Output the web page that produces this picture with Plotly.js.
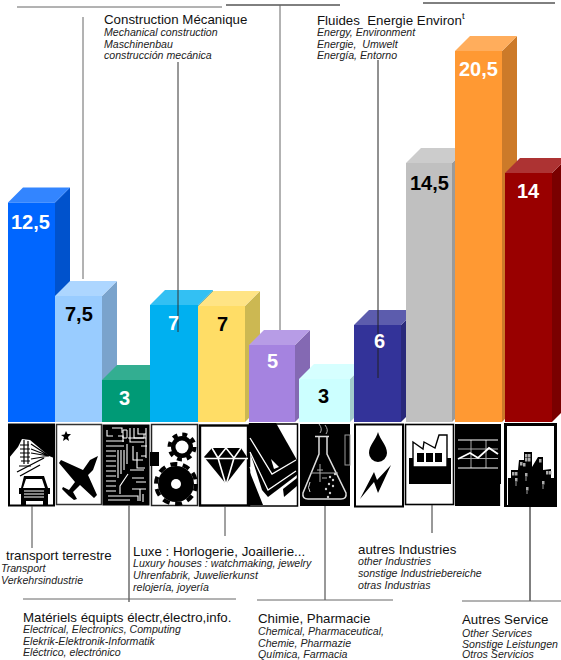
<!DOCTYPE html>
<html><head><meta charset="utf-8">
<script src="https://cdn.plot.ly/plotly-3.0.1.min.js"></script>
<style>html,body{margin:0;padding:0;background:#fff}#c{width:561px;height:660px}</style>
</head><body><div id="c"></div>
<script>
// ---------- data ----------
const categories = ["transport terrestre","Construction mécanique 1","Matériels électr.","Construction Mécanique","Luxe","Fluides 1","Chimie, Pharmacie","Fluides Energie","autres Industries","Divers","Autres Service"];
const shareLabels = ["12,5","7,5","3","7","7","5","3","6","14,5","20,5","14"];
// drawn bar heights (the bars are not strictly to scale with their labels)
const drawnHeights = [12.2,7.0,2.33,6.5,6.44,4.28,2.39,5.39,14.39,20.61,13.83];
const labelColors = ["#fff","#000","#fff","#fff","#000","#fff","#000","#fff","#000","#fff","#fff"];

// ---------- layout helpers (style only) ----------
const barLeft  = [8,55,102,150,198,249,299,354,406,455,505];
const barRight = [55,102,150,198,245,295,350,401,452,502,552];
const labelDx  = [-1,0,-2,-0.5,0.5,0,-1.5,1.5,0,0,0];
const labelDy  = [-19.5,-18,-18,-18,-17.5,-16.5,-17,-16,-20,-18,-17.5];
const frontCol = ["#0066FF","#99CCFF","#009A76","#00B0F0","#FFDD66","#A583E0","#CCFFFF","#333399","#C0C0C0","#FF9933","#990000"];
const topCol   = ["#3385FF","#ADD6FF","#33AE91","#33C0F3","#FFE485","#B79CE6","#D6FFFF","#5C5CAD","#CCCCCC","#FFAD5C","#AD3333"];
const sideCol  = ["#0052CC","#7AA3CC","#007B5E","#008DC0","#CCB852","#8469B3","#A3CCCC","#29297A","#9A9A9A","#CC7A29","#7A0000"];
const W=561,H=660,BASE=422,U=18,D=15;
const du=D/U;
const centers=barLeft.map((l,i)=>(l+barRight[i])/2);
const widths=barLeft.map((l,i)=>barRight[i]-l);
const py=p=>1-p/H;

// 3D faces: drawn below the trace, in the chart's own axis coordinates
const shapes=[];
drawnHeights.forEach((h,i)=>{
  const l=barLeft[i],r=barRight[i];
  shapes.push({type:'path',layer:'below',xref:'x',yref:'y',line:{width:0},fillcolor:sideCol[i],
    path:`M${r},0 L${r+D},${du} L${r+D},${h+du} L${r},${h} Z`});
  shapes.push({type:'path',layer:'below',xref:'x',yref:'y',line:{width:0},fillcolor:topCol[i],
    path:`M${l},${h} L${l+D},${h+du} L${r+D},${h+du} L${r},${h} Z`});
});
const ln=(x0,y0,x1,y1,c,w)=>shapes.push({type:'line',layer:'above',xref:'paper',yref:'paper',x0:x0/W,x1:x1/W,y0:py(y0),y1:py(y1),line:{color:c,width:w||1}});
// leader lines
ln(17,7,222,7,'#666'); ln(226,5,340,5,'#000'); ln(423,3,555,3,'#000');
ln(83,17,83,279,'#666'); ln(178,62,178,332,'#333'); ln(280,5,280,330,'#666'); ln(378,60,378,378,'#222');
ln(32,506,32,548,'#444'); ln(129,505,129,602,'#555',1.3); ln(225,506,225,536,'#444');
ln(325,506,325,600,'#333'); ln(432,505,432,533,'#333'); ln(530,506,530,601,'#000');
ln(23,599,236,599,'#666'); ln(257,600,393,600,'#666'); ln(462,601,561,601,'#666');

const anns=[];
shareLabels.forEach((t,i)=>anns.push({xref:'x',yref:'y',x:centers[i],y:drawnHeights[i],yshift:labelDy[i],xshift:labelDx[i],text:t,showarrow:false,
  xanchor:'center',yanchor:'middle',font:{family:'"Liberation Sans"',size:20,color:labelColors[i],weight:700}}));
const txt=(x,y,t,it,xs)=>anns.push({xref:'paper',yref:'paper',x:x/W,y:py(y),xshift:xs,text:t,showarrow:false,xanchor:'left',yanchor:'middle',borderpad:0,
  font:{family:'"Liberation Sans"',size:it?10.6:13.3,color:it?'#222':'#111',style:it?'italic':'normal'}});
const block=(x,ys,head,lines,xs)=>{txt(x,ys[0],head,false,-1.5);lines.forEach((l,i)=>txt(xs!==undefined?xs:x,ys[i+1],l,true,-1.5));};
block(104.5,[19,32,44,55],"Construction Mécanique",["Mechanical construction","Maschinenbau","construcción mecánica"]);
block(317.5,[19,32,44,55],"Fluides&nbsp;&nbsp;Energie Environ<sup>t</sup>",["Energy, Environment","Energie,&nbsp;&nbsp;Umwelt","Energía, Entorno"]);
block(6,[555,568,580],"transport terrestre",["Transport","Verkehrsindustrie"],1.5);
block(133,[551,563,575,587],"Luxe : Horlogerie, Joaillerie...",["Luxury houses : watchmaking, jewelry","Uhrenfabrik, Juwelierkunst","relojería, joyería"]);
block(23,[617,629,641,652],"Matériels équipts électr,électro,info.",["Electrical, Electronics, Computing","Elekrik-Elektronik-Informatik","Eléctrico, electrónico"]);
block(258,[618,631,643,654],"Chimie, Pharmacie",["Chemical, Pharmaceutical,","Chemie, Pharmazie","Química, Farmacia"]);
block(358,[549,561,573,585],"autres Industries",["other Industries","sonstige Industriebereiche","otras Industrias"]);
block(462,[619,632.5,643.5,654],"Autres Service",["Other Services","Sonstige Leistungen","Otros Servicios"]);

// ---------- pictograms (one SVG in page coordinates) ----------
let s=`<svg xmlns="http://www.w3.org/2000/svg" width="561" height="100" viewBox="0 415 561 100">`;
const box=(x,y,w,h,f,sw,st)=>`<rect x="${x}" y="${y}" width="${w}" height="${h}" fill="${f}" stroke="${st||'#000'}" stroke-width="${sw}"/>`;
// 1 train + car
s+=box(9,424.5,45,81,'#fff',2);
s+=`<polygon points="9,424 54,424 54,458 49,456 30,440 22,439 18,447 9,458" fill="#000"/>`;
s+=`<path d="M20,445h9M20,449h10M20,453h10M20,457h10M21,461h9M24,440v24M28,441v23M31,444L49,456M31,449L49,456M31,453L49,456M31,459L49,456M19,466h12" stroke="#000" stroke-width="1.2" fill="none"/>`;
s+=`<path d="M17,472L44,458M20,476L40,465" stroke="#000" stroke-width="1.4"/>`;
s+=`<path d="M24,476h20l4,12h2v6h-2v11h-5v-4H26v4h-5v-11h-2v-6h2z" fill="#000"/><path d="M26,479h16l3,9H23z" fill="#fff"/><path d="M24,491h20M24,494h20M24,497h20" stroke="#fff" stroke-width="1"/>`;
// 2 plane
s+=box(56.5,424.5,45,80,'#fff',1.5,'#333');
s+=`<polygon points="66,431 67.5,434 71,434 68,437 69,441 66,439 63,441 64,437 61,435 64.5,434.5" fill="#000"/>`;
s+=`<polygon points="98,456 93,470 88,475 97,495 94,498 80,485 73,492 77,499 74,500 69,496 62,489 63,487 69,490 75,482 59,463 61,460 83,470 90,460" fill="#000"/>`;
// 3 circuit
s+=box(103,425,46,80,'#000',1);
let c='';
[441,446,451,456,461,466,471,476,481,486,491].forEach(y=>c+=`M106,${y}h10`);
c+='M107,430v6h6M112,428h10v5M118,436h5v6M116,441h8M116,446h8M118,450v28M121,450v24M124,450v20M127,444v20M130,428v14h14M134,428v10h12M138,428v6h8M146,428v30M141,446h6M133,446v14h10M137,452v16h8M141,456h5M130,470h14M128,474l-8,12v8M132,478h12M136,482h10M108,496h30v5M132,489h14M140,489v12M108,500h22M143,494v8';
s+=`<path d="${c}" stroke="#fff" stroke-width="1.1" fill="none"/>`;
s+=`<path d="M123,430h4v8h-4zM128,438h16v-4" stroke="#fff" fill="none"/>`;
// 4 gears
s+=box(151.5,424.5,46,81,'#fff',1.5,'#222');
s+=`<rect x="150" y="452" width="9" height="14" fill="#000"/>`;
s+=`<circle cx="182" cy="447" r="11" fill="#000"/><circle cx="182" cy="447" r="12.5" fill="none" stroke="#000" stroke-width="4" stroke-dasharray="4.9 4.9"/><circle cx="182" cy="447" r="6.5" fill="#fff"/>`;
s+=`<circle cx="176" cy="484" r="18" fill="#000"/><circle cx="176" cy="484" r="20" fill="none" stroke="#000" stroke-width="4" stroke-dasharray="7 5.57"/><circle cx="176" cy="484" r="5" fill="#fff"/>`;
// 5 diamond
s+=box(200,425.5,48,80,'#fff',2.4);
s+=`<polygon points="204,457 212,448 241,448 247,457 226,484" fill="#000"/>`;
s+=`<path d="M203,458.5H248M218,458l8,27 8,-27M212,448l6,10 8,-10 8,10 7,-10" stroke="#fff" stroke-width="1.6" fill="none"/>`;
// 6 watch / jewel case
s+=box(249.5,424,48,82,'#fff',1.5);
s+=`<polygon points="249,423 276,423 298,462 297,475 268,497 262,490 250,452" fill="#000"/>`;
s+=`<polygon points="249,470 263,505 250,505" fill="#000"/><polygon points="283,489 297,478 297,486 284,497" fill="#000"/>`;
s+=`<path d="M250,438L272,474 296,460M250,452L268,490 296,471M250,467L265,500" stroke="#fff" stroke-width="1.3" fill="none"/><polygon points="271,459 279,467 274,469" fill="#fff"/>`;
// 7 flask
s+=box(300,424,50,82,'#000',0);
s+=`<rect x="345" y="435" width="5" height="30" fill="none" stroke="#999" stroke-width="1"/>`;
s+=`<path d="M315,436.5h14M319,437v17L303,493q-1,6 5,6h33q6,0 5,-6L327,454V437" stroke="#ddd" stroke-width="1.5" fill="none"/>`;
s+=`<path d="M311,473h27M320,433q3,-4 -1,-9M326,434q3,-4 -1,-9M320,464v18M317,470h6M322,478h5" stroke="#aaa" stroke-width="1" fill="none"/>`;
s+=`<path d="M310,492q-3,-4 0,-10" stroke="#ddd" fill="none"/>`;
[[330,477],[333,480],[329,484],[333,486],[326,489],[330,493],[328,497],[335,474]].forEach(p=>s+=`<circle cx="${p[0]}" cy="${p[1]}" r="1.2" fill="#ccc"/>`);
// 8 drop and bolt
s+=box(355,424.5,48,82,'#fff',2);
s+=`<path d="M378,432C380,440 387,445 387,453A9,9 0 1 1 369,453C369,445 376,440 378,432z" fill="#000"/>`;
s+=`<polygon points="391,465 378,493 374,482 360,499 374,472 377,480" fill="#000"/>`;
// 9 factory
s+=box(405.5,424.5,48,80,'#fff',1.6);
s+=`<rect x="409" y="458" width="42" height="26" fill="#000"/>`;
s+=`<polygon points="413,442 423,449 424,442 435,448 439,435 447,435 447,467 413,467" fill="#fff" stroke="#000" stroke-width="1.4"/>`;
s+=`<rect x="417" y="453" width="7" height="9" fill="#000"/><rect x="426" y="453" width="7" height="9" fill="#000"/><rect x="435" y="453" width="7" height="9" fill="#000"/>`;
// 10 chart
s+=box(455,424,46,82,'#000',0);
s+=`<path d="M458,449H498M458,458.5H498M471,440V468M486,440V468" stroke="#aaa" stroke-width="1" fill="none"/>`;
s+=`<path d="M458,440H498M458,468H498" stroke="#fff" stroke-width="1.2"/>`;
s+=`<polyline points="458,459 470,453 478,458 489,448 498,454" fill="none" stroke="#fff" stroke-width="1.8"/>`;
s+=`<path d="M500.5,484V506" stroke="#ddd" stroke-width="1"/>`;
// 11 city
s+=box(505.5,424.5,50,81,'#fff',3);
s+=`<polygon points="508,478 511,478 511,470 518,470 519,460 524,460 524,452 532,452 532,467 535,462 538,457 543,457 543,470 551,469 551,478 554,478 554,505 508,505" fill="#000"/>`;
[[512,472],[515,472],[525,454],[528,454],[525,458],[528,458],[520,462],[523,463],[539,459],[546,471],[549,471],[525,473],[515,478],[526,487],[542,481]].forEach(p=>s+=`<rect x="${p[0]}" y="${p[1]}" width="2.5" height="3.5" fill="#aaa"/>`);
s+=`<path d="M516,482v4M527,491v3M543,485v4M526,477v4" stroke="#999"/><path d="M507.5,480v25" stroke="#fff"/>`;
s+=`</svg>`;

const images=[{source:'data:image/svg+xml;charset=utf-8,'+encodeURIComponent(s),xref:'paper',yref:'paper',x:0,y:py(415),sizex:1,sizey:100/H,xanchor:'left',yanchor:'top',sizing:'stretch',layer:'above'}];

Plotly.newPlot('c',[{type:'bar',x:centers,y:drawnHeights,width:widths,base:0,customdata:categories,hoverinfo:'none',
  marker:{color:frontCol,line:{width:0}}}],{
  width:W,height:H,margin:{l:0,r:0,t:0,b:0,pad:0},showlegend:false,
  paper_bgcolor:'#fff',plot_bgcolor:'rgba(0,0,0,0)',
  xaxis:{range:[0,W],visible:false,fixedrange:true},
  yaxis:{range:[-(H-BASE)/U,BASE/U],visible:false,fixedrange:true},
  shapes,annotations:anns,images
},{displayModeBar:false,staticPlot:true});
</script></body></html>
